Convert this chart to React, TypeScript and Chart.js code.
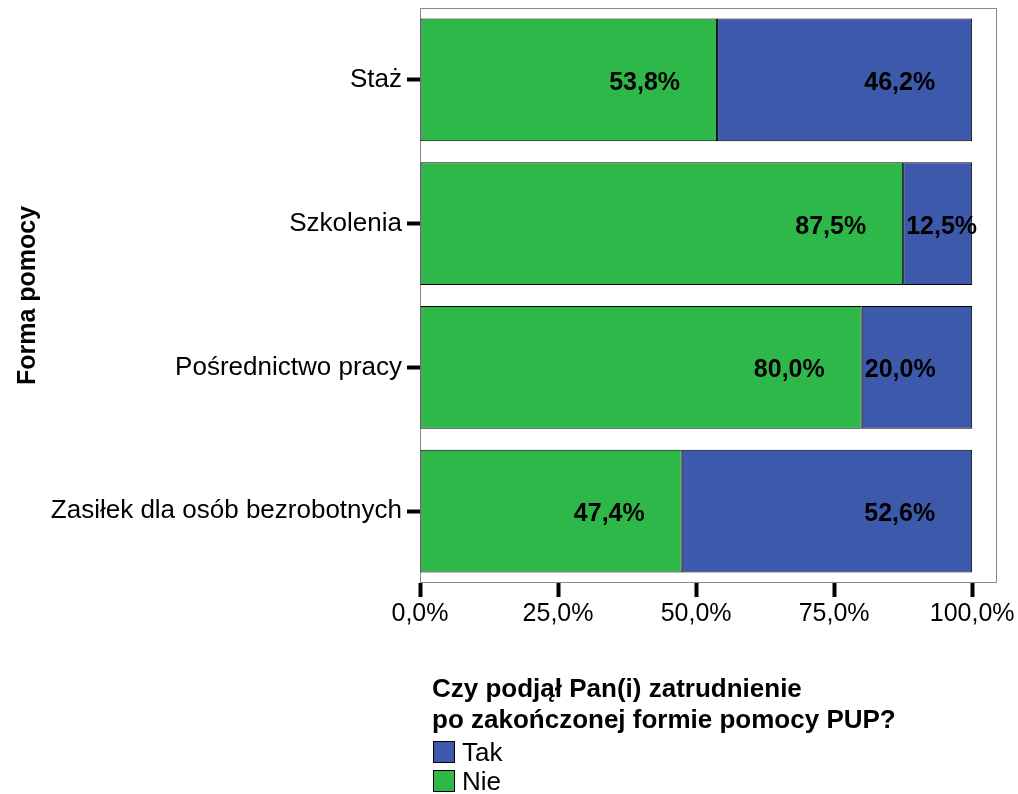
import React, { useEffect, useRef } from "react";
import { Chart, registerables } from "chart.js";

Chart.register(...registerables);

const categories = ["Staż", "Szkolenia", "Pośrednictwo pracy", "Zasiłek dla osób bezrobotnych"];
const nieValues = [53.8, 87.5, 80.0, 47.4];
const takValues = [46.2, 12.5, 20.0, 52.6];
const xTickValues = [0, 25, 50, 75, 100];
const legendTitle = ["Czy podjął Pan(i) zatrudnienie", "po zakończonej formie pomocy PUP?"];
const legendOrder = ["Tak", "Nie"];

const GREEN = "rgb(46,184,74)";
const BLUE = "rgb(61,89,171)";
const FONT = "'Liberation Sans', Arial, sans-serif";

const fmt = (v: number) => v.toFixed(1).replace(".", ",") + "%";

const framePlugin = {
  id: "frame",
  beforeDatasetsDraw(chart: any) {
    const { ctx, chartArea } = chart;
    ctx.save();
    ctx.strokeStyle = "#8a8a8a";
    ctx.lineWidth = 1;
    ctx.strokeRect(chartArea.left + 0.5, chartArea.top + 0.5, chartArea.right - chartArea.left - 1, chartArea.bottom - chartArea.top - 1);
    ctx.restore();
  },
};

const labelPlugin = {
  id: "barLabels",
  afterDatasetsDraw(chart: any) {
    const { ctx } = chart;
    ctx.save();
    ctx.font = `bold 25px ${FONT}`;
    ctx.fillStyle = "#000";
    ctx.textAlign = "right";
    ctx.textBaseline = "middle";
    chart.data.datasets.forEach((ds: any, di: number) => {
      const meta = chart.getDatasetMeta(di);
      meta.data.forEach((bar: any, i: number) => {
        const text = fmt(ds.data[i]);
        const w = ctx.measureText(text).width;
        const start = Math.min(bar.x, bar.base);
        const end = Math.max(bar.x, bar.base);
        const right = Math.max(end - 37, start + 3 + w);
        ctx.fillText(text, right, bar.y + 3);
      });
    });
    ctx.restore();
  },
};

const legendPlugin = {
  id: "customLegend",
  afterDraw(chart: any) {
    const { ctx } = chart;
    ctx.save();
    ctx.fillStyle = "#000";
    ctx.textAlign = "left";
    ctx.textBaseline = "alphabetic";
    ctx.font = `bold 26px ${FONT}`;
    legendTitle.forEach((line, i) => ctx.fillText(line, 432, 697 + i * 31));
    ctx.font = `26px ${FONT}`;
    legendOrder.forEach((name, i) => {
      const ds = chart.data.datasets.find((d: any) => d.label === name);
      const y = 741 + i * 29;
      ctx.fillStyle = ds.backgroundColor;
      ctx.fillRect(433, y, 22, 22);
      ctx.strokeStyle = "#000";
      ctx.lineWidth = 1;
      ctx.strokeRect(433.5, y + 0.5, 21, 21);
      ctx.fillStyle = "#000";
      ctx.fillText(name, 462, y + 20);
    });
    ctx.restore();
  },
};

export default function App() {
  const ref = useRef<HTMLCanvasElement>(null);
  useEffect(() => {
    if (!ref.current) return;
    const chart = new Chart(ref.current, {
      type: "bar",
      data: {
        labels: categories,
        datasets: [
          { label: "Nie", data: nieValues, backgroundColor: GREEN, borderColor: "#000", borderWidth: 1, borderSkipped: false, categoryPercentage: 1, barPercentage: 0.855 },
          { label: "Tak", data: takValues, backgroundColor: BLUE, borderColor: "#000", borderWidth: 1, borderSkipped: false, categoryPercentage: 1, barPercentage: 0.855 },
        ],
      },
      options: {
        indexAxis: "y",
        responsive: false,
        animation: false,
        layout: { padding: { left: 0, right: 21, top: 8, bottom: 0 } },
        plugins: { legend: { display: false }, tooltip: { enabled: false } },
        scales: {
          x: {
            stacked: true,
            min: 0,
            max: 104.5,
            afterBuildTicks: (scale: any) => {
              scale.ticks = xTickValues.map((v) => ({ value: v }));
            },
            afterFit: (scale: any) => {
              scale.height = 211;
              scale.paddingLeft = 0;
              scale.paddingRight = 0;
            },
            ticks: { callback: (v: any) => fmt(Number(v)), color: "#000", font: { family: FONT, size: 25 }, padding: 2, maxRotation: 0, autoSkip: false },
            grid: { drawOnChartArea: false, drawTicks: true, tickLength: 14, tickWidth: 4, tickColor: "#000", color: "#000" },
            border: { display: false },
          },
          y: {
            stacked: true,
            afterFit: (scale: any) => {
              scale.width = 420;
              scale.paddingTop = 0;
              scale.paddingBottom = 0;
            },
            ticks: { color: "#000", font: { family: FONT, size: 26 }, padding: 5 },
            grid: { offset: false, drawOnChartArea: false, drawTicks: true, tickLength: 13, tickWidth: 4, tickColor: "#000", color: "#000" },
            border: { display: false },
            title: { display: true, text: "Forma pomocy", color: "#000", font: { family: FONT, size: 25, weight: "bold" }, padding: { top: 13, bottom: 0 } },
          },
        },
      },
      plugins: [framePlugin, labelPlugin, legendPlugin],
    } as any);
    return () => chart.destroy();
  }, []);
  return (
    <div style={{ position: "absolute", left: 0, top: 0, width: 1018, height: 794, background: "#fff" }}>
      <canvas ref={ref} width={1018} height={794} style={{ width: 1018, height: 794 }} />
    </div>
  );
}
